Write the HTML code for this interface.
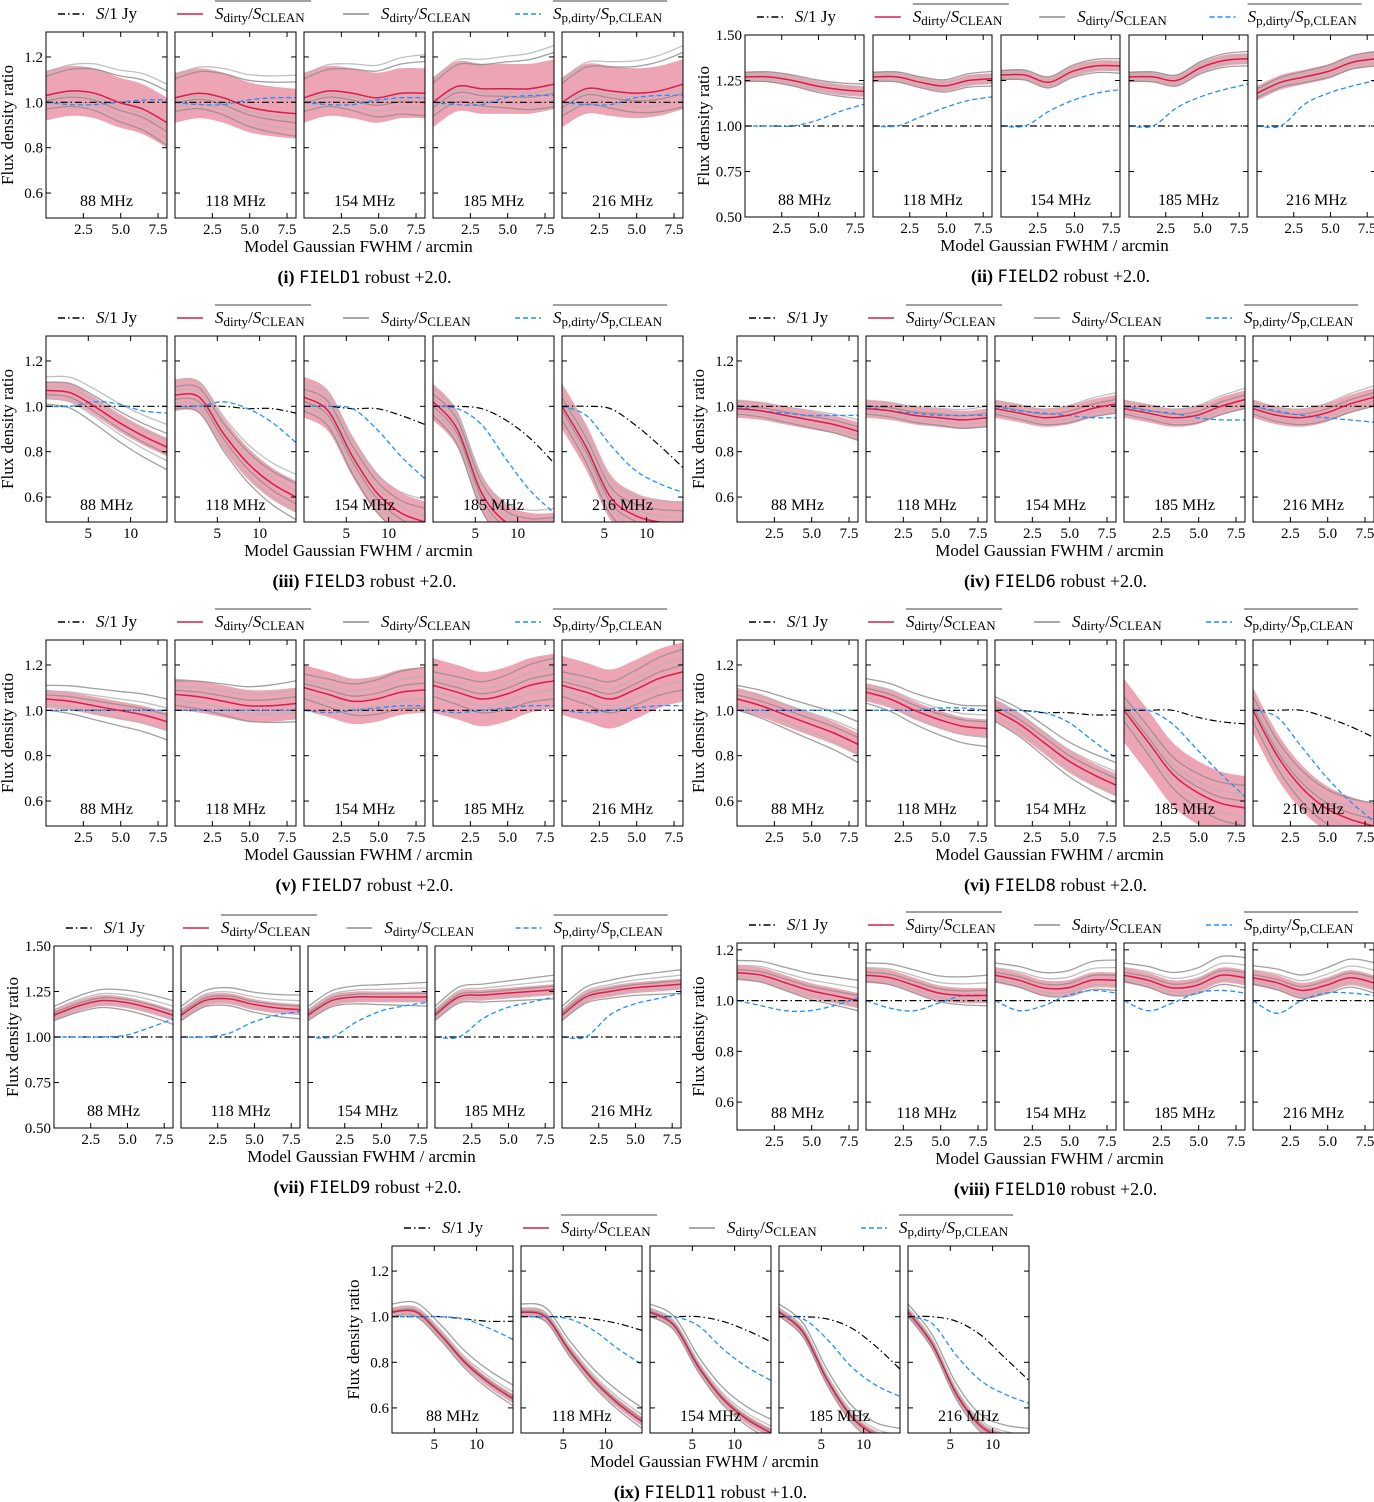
<!DOCTYPE html>
<html><head><meta charset="utf-8">
<style>
html,body{margin:0;padding:0;background:#fff;}
svg{display:block;font-family:"Liberation Serif",serif;}
</style></head>
<body>
<svg id="fig" width="1374" height="1502" viewBox="0 0 1374 1502" xmlns="http://www.w3.org/2000/svg"></svg>
<script>
// ---- data ----
const freqLabels = ['88 MHz','118 MHz','154 MHz','185 MHz','216 MHz'];
const fields = ['FIELD1','FIELD2','FIELD3','FIELD6','FIELD7','FIELD8','FIELD9','FIELD10','FIELD11'];
const romans = ['i','ii','iii','iv','v','vi','vii','viii','ix'];
const robusts = ['+2.0','+2.0','+2.0','+2.0','+2.0','+2.0','+2.0','+2.0','+1.0'];
const yTicks08 = [0.6,0.8,1.0,1.2];
const yTicks15 = [0.5,0.75,1.0,1.25,1.5];
const xTicksSmall = [2.5,5.0,7.5];
const xTicksLarge = [5,10];

const meanI = [[1.03,1.05,1.04,1.0,0.97,0.91],[1.02,1.04,1.02,0.98,0.96,0.95],[1.02,1.05,1.04,1.02,1.04,1.04],[1.0,1.07,1.06,1.06,1.06,1.08],[1.0,1.06,1.05,1.04,1.05,1.08]];
const meanII = [[1.27,1.27,1.25,1.22,1.20,1.19],[1.27,1.27,1.24,1.22,1.25,1.26],[1.28,1.28,1.24,1.30,1.33,1.33],[1.27,1.27,1.25,1.32,1.36,1.37],[1.18,1.24,1.27,1.30,1.35,1.37]];
const meanIII = [[1.07,1.06,1.0,0.93,0.87,0.82],[1.05,1.04,0.88,0.75,0.66,0.60],[1.04,0.98,0.78,0.62,0.53,0.49],[1.02,0.90,0.62,0.49,0.45,0.45],[1.0,0.82,0.60,0.52,0.49,0.48]];
const meanIV = [[0.99,0.98,0.96,0.94,0.92,0.89],[0.99,0.98,0.96,0.95,0.94,0.95],[0.99,0.97,0.95,0.96,0.99,1.01],[0.99,0.97,0.95,0.96,1.0,1.03],[0.99,0.96,0.95,0.97,1.01,1.04]];
const meanV = [[1.05,1.04,1.02,1.0,0.98,0.95],[1.07,1.06,1.04,1.02,1.02,1.03],[1.10,1.07,1.04,1.05,1.08,1.09],[1.11,1.08,1.05,1.07,1.11,1.13],[1.11,1.08,1.05,1.09,1.14,1.17]];
const meanVI = [[1.05,1.02,0.98,0.94,0.90,0.85],[1.08,1.05,1.0,0.96,0.93,0.92],[1.0,0.94,0.86,0.78,0.72,0.67],[1.0,0.86,0.72,0.64,0.59,0.57],[1.0,0.80,0.66,0.57,0.52,0.49]];
const meanVII = [[1.12,1.17,1.20,1.19,1.16,1.12],[1.12,1.20,1.21,1.18,1.16,1.15],[1.12,1.20,1.22,1.22,1.22,1.22],[1.12,1.22,1.23,1.24,1.25,1.26],[1.12,1.22,1.25,1.27,1.28,1.29]];
const meanVIII = [[1.11,1.10,1.07,1.04,1.02,1.0],[1.10,1.09,1.06,1.03,1.02,1.02],[1.10,1.08,1.05,1.05,1.08,1.08],[1.10,1.08,1.05,1.06,1.10,1.09],[1.09,1.07,1.04,1.06,1.09,1.07]];
const meanIX = [[1.02,1.02,0.92,0.80,0.71,0.64],[1.02,1.0,0.85,0.72,0.62,0.54],[1.02,0.96,0.78,0.64,0.55,0.49],[1.02,0.93,0.72,0.56,0.48,0.45],[1.02,0.88,0.66,0.52,0.47,0.45]];

const blueI = [[1.0,0.99,0.99,1.0,1.01,1.01],[1.0,0.99,0.99,1.01,1.02,1.02],[1.0,0.99,0.99,1.01,1.02,1.02],[1.0,0.99,0.99,1.02,1.03,1.03],[1.0,0.99,0.99,1.02,1.03,1.03]];
const blueII = [[1.0,1.0,1.0,1.03,1.08,1.12],[1.0,1.0,1.05,1.10,1.14,1.16],[1.0,1.0,1.08,1.14,1.18,1.20],[1.0,1.0,1.10,1.16,1.20,1.23],[1.0,1.0,1.12,1.18,1.22,1.25]];
const blueIII = [[1.0,1.0,1.02,1.01,0.98,0.97],[1.0,1.0,1.02,0.99,0.93,0.84],[1.0,1.0,0.99,0.90,0.78,0.68],[1.0,0.99,0.92,0.77,0.63,0.53],[1.0,0.96,0.83,0.72,0.66,0.62]];
const blueIV = [[1.0,0.98,0.97,0.96,0.96,0.96],[1.0,0.98,0.97,0.96,0.96,0.96],[1.0,0.98,0.97,0.96,0.95,0.95],[1.0,0.98,0.97,0.95,0.94,0.94],[1.0,0.98,0.96,0.95,0.94,0.93]];
const blueV = [[1.0,1.0,1.0,1.0,1.0,1.0],[1.0,1.0,1.0,1.0,1.0,1.0],[1.0,0.99,1.0,1.01,1.02,1.02],[1.0,0.99,1.0,1.01,1.02,1.02],[1.0,0.99,1.0,1.01,1.02,1.02]];
const blueVI = [[1.0,1.0,1.0,1.0,1.0,1.0],[1.0,1.0,1.0,1.01,1.01,1.0],[1.0,1.0,0.99,0.95,0.87,0.79],[1.0,1.0,0.94,0.83,0.72,0.62],[1.0,0.97,0.84,0.71,0.60,0.51]];
const blueVII = [[1.0,1.0,1.0,1.01,1.05,1.10],[1.0,1.0,1.02,1.08,1.12,1.14],[1.0,1.0,1.08,1.14,1.17,1.19],[1.0,1.0,1.10,1.16,1.19,1.22],[1.0,1.0,1.12,1.18,1.21,1.24]];
const blueVIII = [[1.0,0.98,0.96,0.96,0.98,1.01],[1.0,0.97,0.96,0.99,1.02,1.02],[1.0,0.96,0.98,1.02,1.04,1.03],[1.0,0.96,0.99,1.03,1.04,1.03],[1.0,0.95,1.0,1.03,1.03,1.02]];
const blueIX = [[1.0,1.0,1.0,0.99,0.95,0.90],[1.0,1.0,0.99,0.94,0.86,0.79],[1.0,1.0,0.96,0.86,0.78,0.72],[1.0,0.99,0.90,0.78,0.70,0.65],[1.0,0.97,0.83,0.72,0.66,0.62]];

const flat = [1,1,1,1,1,1];
const blackIII = [flat,[1,1,1,0.99,0.99,0.97],[1,1,0.99,0.99,0.96,0.92],[1,1,0.99,0.94,0.86,0.75],[1,1,0.99,0.92,0.83,0.73]];
const blackVI = [flat,flat,[1,1,0.99,0.99,0.98,0.98],[1,1,1,0.97,0.95,0.94],[1,1,1,0.97,0.93,0.88]];
const blackIX = [[1,1,1,0.99,0.98,0.98],[1,1,1,0.99,0.97,0.94],[1,1,1,0.98,0.94,0.89],[1,1,0.99,0.95,0.87,0.77],[1,1,0.98,0.92,0.82,0.72]];
const blackFlat = [flat,flat,flat,flat,flat];

const bandI = [0.11,0.11,0.11,0.11,0.11];
const bandII = [0.03,0.03,0.03,0.03,0.04];
const bandIII = [0.04,0.07,0.09,0.08,0.10];
const bandIV = [0.04,0.04,0.04,0.04,0.04];
const bandV = [0.04,0.07,0.10,0.12,0.13];
const bandVI = [0.05,0.04,0.05,0.14,0.10];
const bandVII = [0.03,0.03,0.03,0.03,0.03];
const bandVIII = [0.03,0.03,0.03,0.03,0.03];
const bandIX = [0.02,0.02,0.02,0.02,0.02];

const grayI = [-0.10,-0.07,-0.04,-0.02,0.14,0.17];
const grayII = [-0.04,-0.02,0.0,0.02,0.04];
const grayIII = [-0.10,-0.06,-0.03,0.03,0.06,0.10];
const grayIV = [-0.04,-0.02,0.02,0.05];
const grayV = [-0.08,-0.04,0.03,0.06,0.1];
const grayVI = [-0.08,-0.04,0.03,0.06,0.1];
const grayVII = [-0.05,-0.02,0.02,0.05,0.08];
const grayVIII = [-0.04,-0.02,0.02,0.05,0.08];
const grayIX = [-0.03,-0.01,0.01,0.03,0.06];

const figs = [
 {x0:46,pw:121,pitch:129,top:32,h:186,ylim:[0.49,1.31],yt:yTicks08,dec:1,xmax:8.1,xt:xTicksSmall,mean:meanI,blue:blueI,black:blackFlat,band:bandI,gray:grayI},
 {x0:745,pw:119,pitch:128,top:35,h:182,ylim:[0.5,1.5],yt:yTicks15,dec:2,xmax:8.1,xt:xTicksSmall,mean:meanII,blue:blueII,black:blackFlat,band:bandII,gray:grayII},
 {x0:46,pw:121,pitch:129,top:336,h:186,ylim:[0.49,1.31],yt:yTicks08,dec:1,xmax:14.3,xt:xTicksLarge,mean:meanIII,blue:blueIII,black:blackIII,band:bandIII,gray:grayIII},
 {x0:737,pw:121,pitch:129,top:336,h:186,ylim:[0.49,1.31],yt:yTicks08,dec:1,xmax:8.1,xt:xTicksSmall,mean:meanIV,blue:blueIV,black:blackFlat,band:bandIV,gray:grayIV},
 {x0:46,pw:121,pitch:129,top:640,h:186,ylim:[0.49,1.31],yt:yTicks08,dec:1,xmax:8.1,xt:xTicksSmall,mean:meanV,blue:blueV,black:blackFlat,band:bandV,gray:grayV},
 {x0:737,pw:121,pitch:129,top:640,h:186,ylim:[0.49,1.31],yt:yTicks08,dec:1,xmax:8.1,xt:xTicksSmall,mean:meanVI,blue:blueVI,black:blackVI,band:bandVI,gray:grayVI},
 {x0:54,pw:119,pitch:127,top:946,h:182,ylim:[0.5,1.5],yt:yTicks15,dec:2,xmax:8.1,xt:xTicksSmall,mean:meanVII,blue:blueVII,black:blackFlat,band:bandVII,gray:grayVII},
 {x0:737,pw:121,pitch:129,top:943,h:187,ylim:[0.49,1.227],yt:yTicks08,dec:1,xmax:8.1,xt:xTicksSmall,mean:meanVIII,blue:blueVIII,black:blackFlat,band:bandVIII,gray:grayVIII},
 {x0:392,pw:121,pitch:129,top:1246,h:187,ylim:[0.49,1.31],yt:yTicks08,dec:1,xmax:14.3,xt:xTicksLarge,mean:meanIX,blue:blueIX,black:blackIX,band:bandIX,gray:grayIX}
];

// ---- drawing ----
const NS='http://www.w3.org/2000/svg';
const svg=document.getElementById('fig');
function mk(tag,attrs,parent){const e=document.createElementNS(NS,tag);for(const k in attrs)e.setAttribute(k,attrs[k]);(parent||svg).appendChild(e);return e;}
function smooth(pts){
  let d='M'+pts[0][0].toFixed(1)+','+pts[0][1].toFixed(1);
  for(let i=0;i<pts.length-1;i++){
    const p0=pts[i-1]||pts[i],p1=pts[i],p2=pts[i+1],p3=pts[i+2]||p2;
    const c1=[p1[0]+(p2[0]-p0[0])/6,p1[1]+(p2[1]-p0[1])/6];
    const c2=[p2[0]-(p3[0]-p1[0])/6,p2[1]-(p3[1]-p1[1])/6];
    d+='C'+c1.map(v=>v.toFixed(1))+' '+c2.map(v=>v.toFixed(1))+' '+p2[0].toFixed(1)+','+p2[1].toFixed(1);
  }
  return d;
}
function subText(parent,x,y,parts,name){
  const t=mk('text',{x:x,y:y,'font-size':17},parent);
  
  
  parts.forEach(p=>{const s=mk('tspan',{},t);s.textContent=p[0];
    if(p[1]==='i')s.setAttribute('font-style','italic');
    if(p[1]==='sub'){s.setAttribute('font-size','13');s.setAttribute('dy','3');}
    if(p[1]==='up'){s.setAttribute('dy','-3');}
  });
  return t;
}

figs.forEach((F,fi)=>{
  const g=mk('g',{});
  
  
  const W=4*F.pitch+F.pw, bottom=F.top+F.h;
  const ys=v=>F.top+(F.ylim[1]-v)/(F.ylim[1]-F.ylim[0])*F.h;

  const lg=mk('g',{},g);
  
  
  const ly=F.top-18, offs=[12,131,297,469].map(o=>F.x0+o*W/637);
  const styles=[{stroke:'#000','stroke-dasharray':'7,3,1.5,3'},{stroke:'#d6204a'},{stroke:'#8c8c8c'},{stroke:'#1e90ff','stroke-dasharray':'5,3'}];
  const labels=[[['S','i'],['/1 Jy','']],[['S','i'],['dirty','sub'],['/','up'],['S','i'],['CLEAN','sub']],[['S','i'],['dirty','sub'],['/','up'],['S','i'],['CLEAN','sub']],[['S','i'],['p,dirty','sub'],['/','up'],['S','i'],['p,CLEAN','sub']]];
  const names=['legend-entry-s-1jy','legend-entry-mean-ratio','legend-entry-individual-ratio','legend-entry-peak-ratio'];
  offs.forEach((ox,k)=>{
    const ln=mk('line',Object.assign({x1:ox,x2:ox+26,y1:ly,y2:ly,'stroke-width':1.6},styles[k]),lg);
    
    
    const tx=ox+38;
    subText(lg,tx,ly+5,labels[k],names[k]+'-label');
    if(k===1||k===3){const ov=mk('line',{x1:tx,x2:tx+(k===1?96:114),y1:ly-13,y2:ly-13,stroke:'#000','stroke-width':0.8},lg);
      
      }
  });

  const yt=mk('text',{x:0,y:0,'font-size':17,'text-anchor':'middle',transform:`translate(${F.x0-(F.dec===2?36:33)},${F.top+F.h/2}) rotate(-90)`},g);
  
  
  yt.textContent='Flux density ratio';

  for(let p=0;p<5;p++){
    const px=F.x0+p*F.pitch;
    const xs=v=>px+v/F.xmax*F.pw;
    const xsamp=i=>xs(i/5*F.xmax);
    const pg=mk('g',{},g);
    
    
    const cid='clip'+fi+'_'+p;
    const cp=mk('clipPath',{id:cid},pg);mk('rect',{x:px,y:F.top,width:F.pw,height:F.h},cp);
    const cg=mk('g',{'clip-path':`url(#${cid})`},pg);
    const mean=F.mean[p];
    const up=mean.map((v,i)=>[xsamp(i),ys(v+F.band[p])]);
    const dn=mean.map((v,i)=>[xsamp(i),ys(v-F.band[p])]).reverse();
    const bd=smooth(up)+'L'+smooth(dn).slice(1)+'Z';
    const band=mk('path',{d:bd,fill:'#ec9fb0',opacity:0.95},cg);
    
    
    F.gray.forEach((o,gi)=>{
      const gp=mk('path',{d:smooth(mean.map((v,i)=>[xsamp(i),ys(v+o*(0.6+0.4*i/5))])),fill:'none',stroke:gi%2?'#b5b5b5':'#8f8f8f','stroke-width':1.3,opacity:0.85},cg);
      
      
    });
    const bk=mk('path',{d:smooth(F.black[p].map((v,i)=>[xsamp(i),ys(v)])),fill:'none',stroke:'#000','stroke-width':1.2,'stroke-dasharray':'7,3,1.5,3'},cg);
    
    
    const bl=mk('path',{d:smooth(F.blue[p].map((v,i)=>[xsamp(i),ys(v)])),fill:'none',stroke:'#1e90ff','stroke-width':1.3,'stroke-dasharray':'5,3'},cg);
    
    
    const rd=mk('path',{d:smooth(mean.map((v,i)=>[xsamp(i),ys(v)])),fill:'none',stroke:'#d6204a','stroke-width':1.5},cg);
    
    
    const fr=mk('rect',{x:px,y:F.top,width:F.pw,height:F.h,fill:'none',stroke:'#000','stroke-width':1},pg);
    
    
    F.xt.forEach(t=>{
      const x=xs(t);
      mk('line',{x1:x,x2:x,y1:bottom,y2:bottom-5,stroke:'#000'},pg);
      mk('line',{x1:x,x2:x,y1:F.top,y2:F.top+5,stroke:'#000'},pg);
      const tl=mk('text',{x:x,y:bottom+16,'font-size':15,'text-anchor':'middle'},pg);
      
      
      tl.textContent=t.toFixed(F.xt[0]%1?1:0);
    });
    F.yt.forEach(t=>{
      const y=ys(t);
      mk('line',{x1:px,x2:px+5,y1:y,y2:y,stroke:'#000'},pg);
      mk('line',{x1:px+F.pw,x2:px+F.pw-5,y1:y,y2:y,stroke:'#000'},pg);
      if(p===0){const tl=mk('text',{x:px-3,y:y+5,'font-size':15,'text-anchor':'end'},pg);
        
        
        tl.textContent=t.toFixed(F.dec);}
    });
    const fl=mk('text',{x:px+F.pw/2,y:bottom-12,'font-size':16,'text-anchor':'middle'},pg);
    
    
    fl.textContent=freqLabels[p];
  }
  const xt=mk('text',{x:F.x0+W/2-6,y:bottom+34,'font-size':17,'text-anchor':'middle'},g);
  
  
  xt.textContent='Model Gaussian FWHM / arcmin';
  const cap=mk('text',{x:F.x0+W/2,y:bottom+65,'font-size':18,'text-anchor':'middle'},g);
  
  
  const a=mk('tspan',{'font-weight':'bold'},cap);a.textContent='('+romans[fi]+')  ';
  const b=mk('tspan',{'font-family':'DejaVu Sans Mono, monospace','font-size':17},cap);b.textContent=fields[fi];
  const c=mk('tspan',{},cap);c.textContent=' robust '+robusts[fi]+'.';
});
</script>
</body></html>
